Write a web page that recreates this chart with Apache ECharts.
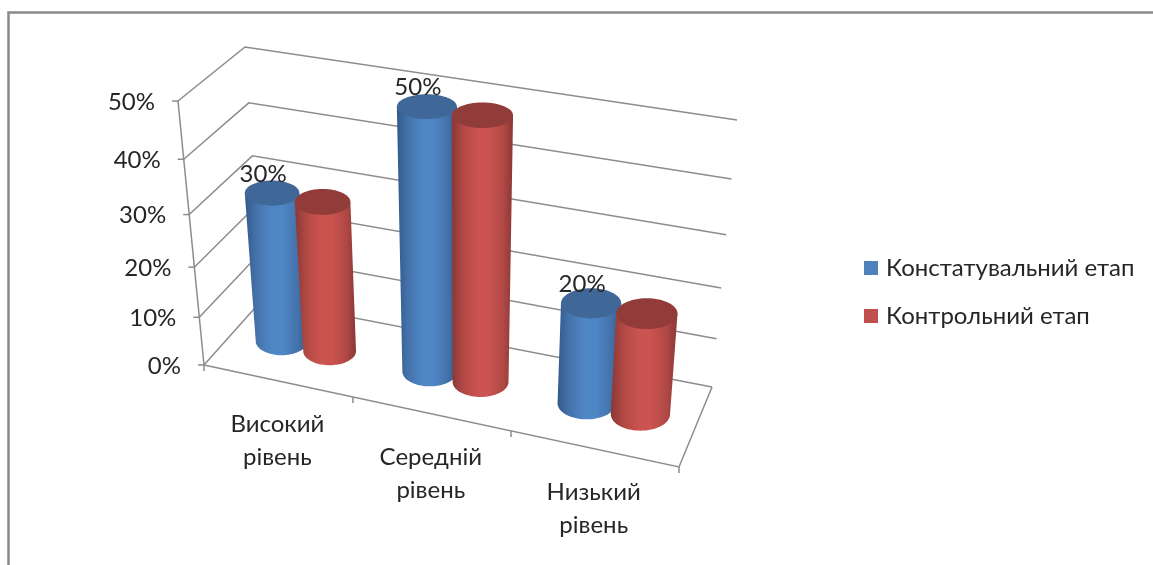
<!DOCTYPE html>
<html>
<head>
<meta charset="utf-8">
<style>html,body{margin:0;padding:0;background:#fff}#chart{width:1153px;height:565px}</style>
<script src="https://cdn.jsdelivr.net/npm/echarts@6/dist/echarts.min.js"></script>
</head>
<body>
<div id="chart"></div>
<script>
// Chart content
const categories = ['Високий\nрівень', 'Середній\nрівень', 'Низький\nрівень'];
const stageNames = ['Констатувальний етап', 'Контрольний етап'];
const ascertainingValues = [30, 50, 20];
const controlValues = [30, 50, 20];
const axisTicks = [0, 10, 20, 30, 40, 50];
const FONT = 'Lato, "Noto Sans", sans-serif';

// The hidden cartesian grid is the front face of a 3D box; every grid pixel
// is carried onto the page through the perspective of that box.
const FRONT = { left: 204, top: 101, width: 475, height: 264 };
const FLOOR = [[204, 365], [679, 467], [712, 387], [262, 300]]; // front-left, front-right, back-right, back-left
const CEIL = [[178, 101], [699, 187], [737, 120], [245, 47]];
const HEIGHT_FORESHORTEN = 0.883;
const WIDTH_BEND = 0.035;  // evens out the category spacing along the box width
const BAR_OFFSET = 0.165;  // share of a category band
const RADIUS_U = 0.06;     // cylinder radius along the width of the box
const RADIUS_T = 0.21;     // cylinder radius along its depth
const BAR_DEPTH = 0.5;

function homography(q) {
  const [p0, p1, p2, p3] = q;
  const dx1 = p1[0] - p2[0], dx2 = p3[0] - p2[0], sx = p0[0] - p1[0] + p2[0] - p3[0];
  const dy1 = p1[1] - p2[1], dy2 = p3[1] - p2[1], sy = p0[1] - p1[1] + p2[1] - p3[1];
  const den = dx1 * dy2 - dx2 * dy1;
  const g = (sx * dy2 - dx2 * sy) / den, h = (dx1 * sy - sx * dy1) / den;
  const a = p1[0] - p0[0] + g * p1[0], b = p3[0] - p0[0] + h * p3[0];
  const d = p1[1] - p0[1] + g * p1[1], e = p3[1] - p0[1] + h * p3[1];
  return (u, t) => {
    const w = g * u + h * t + 1;
    return [(a * u + b * t + p0[0]) / w, (d * u + e * t + p0[1]) / w];
  };
}
const floorAt = homography(FLOOR);
const ceilAt = homography(CEIL);

function project(u, v, t) {
  const s = v * HEIGHT_FORESHORTEN / (1 + v * (HEIGHT_FORESHORTEN - 1));
  const ub = u + WIDTH_BEND * u * (1 - u);
  const f = floorAt(ub, t), c = ceilAt(ub, t);
  return [f[0] + (c[0] - f[0]) * s, f[1] + (c[1] - f[1]) * s];
}
// Grid pixel -> box coordinates
const toU = px => (px - FRONT.left) / FRONT.width;
const toV = py => (FRONT.top + FRONT.height - py) / FRONT.height;

function ringAt(u, v, t) {
  const c = project(u, v, t);
  const l = project(u - RADIUS_U, v, t), r = project(u + RADIUS_U, v, t);
  const front = project(u, v, 0), back = project(u, v, 1);
  return { cx: c[0], cy: c[1], rx: (r[0] - l[0]) / 2, ry: RADIUS_T * Math.abs(front[1] - back[1]) };
}

function cylinderItem(offset, side, cap, labelled) {
  const sideFill = {
    type: 'linear', x: 0, y: 0, x2: 1, y2: 0,
    colorStops: [
      { offset: 0, color: side[0] }, { offset: 0.18, color: side[1] },
      { offset: 0.42, color: side[2] }, { offset: 0.6, color: side[2] },
      { offset: 0.84, color: side[1] }, { offset: 1, color: side[0] }
    ]
  };
  return (params, api) => {
    const base = api.coord([api.value(0), 0]);
    const top = api.coord([api.value(0), api.value(1)]);
    const band = api.size([1, 0])[0];
    const u = toU(base[0] + offset * band);
    const b = ringAt(u, toV(base[1]), BAR_DEPTH);
    const a = ringAt(u, toV(top[1]), BAR_DEPTH);
    const pts = [[a.cx - a.rx, a.cy]];
    for (let i = 0; i <= 40; i++) {
      const ang = Math.PI * i / 40;
      pts.push([b.cx - b.rx * Math.cos(ang), b.cy + b.ry * Math.sin(ang)]);
    }
    pts.push([a.cx + a.rx, a.cy]);
    const children = [
      { type: 'polygon', shape: { points: pts }, style: { fill: sideFill } },
      { type: 'ellipse', shape: { cx: a.cx, cy: a.cy, rx: a.rx, ry: a.ry }, style: { fill: cap } }
    ];
    if (labelled) {
      children.push({
        type: 'text',
        style: {
          x: a.cx - 9, y: a.cy - 19, text: api.value(1) + '%', align: 'center', verticalAlign: 'middle',
          font: '24px ' + FONT, fill: '#262626'
        }
      });
    }
    return { type: 'group', children };
  };
}

const GRID_LINE = { stroke: '#8c8c8c', lineWidth: 1.5, fill: null };
const line = (points) => ({ type: 'polyline', shape: { points }, style: GRID_LINE });

// Walls: one bent line per value tick, with its tick mark and label
function wallItem(params, api) {
  const py = api.coord([0, api.value(0)])[1];
  const v = toV(py);
  const fl = project(0, v, 0), bl = project(0, v, 1), br = project(1, v, 1);
  return {
    type: 'group',
    children: [
      line([fl, bl, br]),
      line([[fl[0] - 6, fl[1]], fl]),
      {
        type: 'text',
        style: {
          x: fl[0] - 23, y: fl[1] + 1, text: api.value(0) + '%', align: 'right', verticalAlign: 'middle',
          font: '24px ' + FONT, fill: '#262626'
        }
      }
    ]
  };
}

// Floor edges, the value axis and the category ticks with labels
function floorItem(params, api) {
  const i = api.value(0);
  const px = api.coord([i, 0]);
  const band = api.size([1, 0])[0];
  const mid = project(toU(px[0]), 0, 0);
  const right = project(toU(px[0] + band / 2), 0, 0);
  const children = [
    line([[right[0], right[1]], [right[0], right[1] + 6]]),
    {
      type: 'text',
      style: {
        x: mid[0], y: mid[1] + 60, text: categories[i], align: 'center', verticalAlign: 'middle',
        font: '24px ' + FONT, lineHeight: 33, fill: '#262626'
      }
    }
  ];
  if (i === 0) {
    const left = project(0, 0, 0);
    children.push(line([project(0, 0, 0), project(0, 1, 0)]));
    children.push(line([[left[0], left[1]], [left[0], left[1] + 6]]));
    children.push(line([project(0, 0, 0), project(1, 0, 0), project(1, 0, 1)]));
  }
  return { type: 'group', children };
}

const chart = echarts.init(document.getElementById('chart'), null, { renderer: 'canvas' });
chart.setOption({
  animation: false,
  backgroundColor: '#ffffff',
  grid: FRONT,
  xAxis: { type: 'category', data: categories, show: false },
  yAxis: { type: 'value', min: 0, max: 50, interval: 10, show: false },
  legend: {
    orient: 'vertical', left: 864, top: 254, padding: 0, itemWidth: 14, itemHeight: 14, itemGap: 20,
    selectedMode: false, icon: 'rect', data: stageNames,
    textStyle: { fontFamily: FONT, fontSize: 24, lineHeight: 28, color: '#262626', padding: [0, 0, 0, 3] }
  },
  graphic: [{
    type: 'polyline', silent: true,
    shape: { points: [[8.5, 566], [8.5, 12.5], [1154, 12.5]] },
    style: { stroke: '#8a8a8a', lineWidth: 2.5, fill: null }
  }],
  series: [
    { type: 'custom', name: 'walls', data: axisTicks.map(v => [v]), encode: { y: 0 }, renderItem: wallItem },
    { type: 'custom', name: 'floor', data: categories.map((c, i) => [i]), encode: { x: 0 }, renderItem: floorItem },
    {
      type: 'custom', name: stageNames[0], itemStyle: { color: '#4f81bd' },
      data: ascertainingValues.map((v, i) => [i, v]), encode: { x: 0, y: 1 },
      renderItem: cylinderItem(-BAR_OFFSET, ['#33598a', '#4472aa', '#4f86c6'], '#3f6898', true)
    },
    {
      type: 'custom', name: stageNames[1], itemStyle: { color: '#c0504d' },
      data: controlValues.map((v, i) => [i, v]), encode: { x: 0, y: 1 },
      renderItem: cylinderItem(BAR_OFFSET, ['#8a3735', '#b04845', '#cb5350'], '#923c3a', false)
    }
  ]
});
</script>
</body>
</html>
